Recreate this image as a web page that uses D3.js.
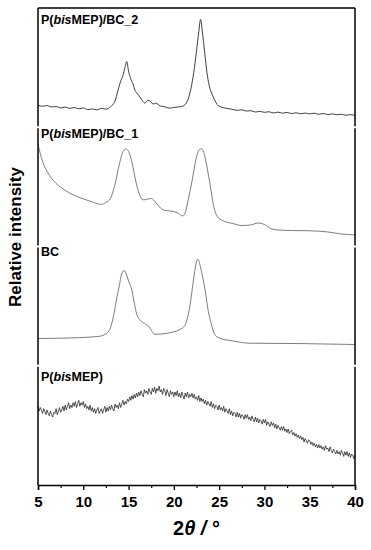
<!DOCTYPE html>
<html>
<head>
<meta charset="utf-8">
<script src="https://d3js.org/d3.v7.min.js"></script>
<style>
  body { margin: 0; background: #fff; }
  svg { display: block; font-family: "Liberation Sans", Arial, sans-serif; }
</style>
</head>
<body>
<div id="my_dataviz"></div>
<script>
// XRD patterns, 2theta in degrees, intensity in a.u. (each pattern scaled in its own band, 0-100)
var bc2Theta = [5,5.5,6,6.5,7,7.5,8,8.5,9,9.5,10,10.5,11,11.5,12,12.5,13,13.5,13.8,14.1,14.4,14.6,14.8,15,15.2,15.5,15.7,16,16.3,16.6,16.8,17.1,17.4,17.7,18,18.5,19,19.5,20,20.5,21,21.3,21.6,21.9,22.2,22.5,22.75,22.95,23.15,23.4,23.65,23.9,24.2,24.5,24.8,25.2,25.6,26,26.5,27,27.5,28,28.5,29,29.5,30,30.5,31,31.5,32,32.5,33,33.5,34,34.5,35,35.5,36,36.5,37,37.5,38,38.5,39,39.5,40];
var bc2Int = [18.5,17.6,18.2,17.0,17.4,16.2,16.9,15.8,16.5,15.5,16.2,14.8,15.3,14.6,15.9,15.2,17.2,22,30,38,44,50,55.1,47,41.5,36,31,28,24.6,21.5,20.2,22.5,21.8,19.5,20.2,17.8,17.2,16.0,16.6,17.0,17.8,19.5,24,33,46,64,80,90.4,80,63,46,35,28,23,19,17,16.2,15.6,15.0,14.2,14.6,13.6,13.9,12.8,13.3,12.5,13.0,12.0,12.7,11.8,12.4,11.5,12.1,11.3,11.9,11.2,11.8,10.9,11.5,10.6,11.2,10.5,10.9,10.1,10.6,9.9];

var bc1Theta = [5,5.5,6,6.5,7,8,9,10,11,12,12.5,13,13.5,14,14.4,14.7,15,15.4,15.8,16.2,16.6,17,17.5,18,18.5,19,20,20.5,21,21.3,21.6,22,22.4,22.7,23,23.3,23.6,24,24.4,24.8,25.5,26.5,27.5,28.5,29.3,30,30.7,31.5,33,35,37,38.5,40];
var bc1Int = [85.7,71.4,63.0,57.1,52.9,47.1,42.9,39.9,37.4,35.3,37.0,40.3,52.1,69.7,79.8,81.8,79.8,69.7,54.6,43.7,39.1,39.5,40.3,37.0,32.4,30.3,29.4,27.7,25.6,29.4,39.5,54.6,71.4,79.8,81.9,79.0,68.9,52.1,33.6,25.2,21.4,19.3,17.6,18.1,19.7,18.5,15.1,13.9,13.4,13.2,12.2,10.5,9.8];

var bcTheta = [5,8,11.5,12.5,13,13.4,13.7,14,14.2,14.5,14.8,15,15.3,15.6,15.9,16.2,16.6,17.2,17.9,19.6,21,21.5,21.8,22,22.3,22.45,22.65,22.9,23.2,23.5,23.8,24.1,24.5,25,26.5,28.4,33.9,40];
var bcInt = [22.8,23.2,24.4,26.7,31.9,44,56.9,68,76,79.8,76,71,65.3,54,43.1,39,36.1,33.3,26.4,27.8,31.9,40,51.4,62.5,79.2,86,89.4,84,73.6,61,45.8,36,26.4,23.3,20.8,18.9,18.6,17.8];

// amorphous polymer, one row per degree, sampled every 0.125 deg from 5 to 40
var pbStart = 5, pbStep = 0.125;
var pbInt = [
  66,62,65,63,60,64,62,59,
  63,60,58,62,59,57,61,60,
  64,59,62,65,61,63,66,62,
  67,63,66,69,64,67,65,69,
  66,70,65,68,71,66,69,67,
  70,65,68,64,66,63,67,62,
  65,61,64,60,63,65,60,62,
  64,60,63,66,61,65,62,66,
  63,67,64,62,68,65,67,64,
  69,65,68,71,67,70,68,72,
  70,74,71,75,72,76,73,77,
  74,78,75,79,76,74,80,77,
  79,76,81,78,76,81,78,82,
  77,81,79,83,78,80,76,81,
  79,75,80,77,74,79,76,78,
  74,78,75,79,74,77,73,78,
  75,72,77,74,78,73,76,74,
  77,73,76,72,74,71,75,70,
  73,70,72,68,71,67,70,68,
  66,70,65,68,64,67,66,63,
  67,63,65,62,66,61,64,62,
  60,64,59,62,58,61,60,57,
  61,57,60,56,59,58,55,59,
  56,59,55,57,54,58,55,53,
  57,53,56,52,55,54,51,55,
  52,55,50,53,51,49,53,50,
  52,48,51,47,50,48,46,49,
  46,49,45,47,44,47,43,45,
  46,42,44,41,43,40,42,39,
  41,38,40,36,39,37,35,38,
  37,34,36,33,35,32,34,31,
  34,31,33,30,32,29,33,30,
  31,28,32,29,27,30,28,26,
  29,26,28,25,29,27,24,28,
  25,28,24,27,23,26,25,22,
  25];

var patterns = [
  {name: ["P(", "bis", "MEP)/BC_2"], theta: bc2Theta, val: bc2Int, color: "#2a2a2a", lw: 0.9, ly: 16},
  {name: ["P(", "bis", "MEP)/BC_1"], theta: bc1Theta, val: bc1Int, color: "#6e6e6e", lw: 0.9, ly: 11},
  {name: ["BC", "", ""], theta: bcTheta, val: bcInt, color: "#6e6e6e", lw: 0.9, ly: 9},
  {name: ["P(", "bis", "MEP)"], theta: pbInt.map(function(d, i) { return pbStart + i * pbStep; }), val: pbInt, color: "#2a2a2a", lw: 0.8, ly: 15}
];

var majorTicks = [5, 10, 15, 20, 25, 30, 35, 40];
var minorTicks = [7.5, 12.5, 17.5, 22.5, 27.5, 32.5, 37.5];

var margin = {top: 8, right: 16, bottom: 65, left: 38},
    width = 371 - margin.left - margin.right,
    height = 550 - margin.top - margin.bottom;

var svg = d3.select("#my_dataviz")
  .append("svg")
    .attr("width", width + margin.left + margin.right)
    .attr("height", height + margin.top + margin.bottom)
  .append("g")
    .attr("transform", "translate(" + margin.left + "," + margin.top + ")");

var x = d3.scaleLinear().domain([5, 40]).range([0, width]);
var band = height / patterns.length;

patterns.forEach(function(p, k) {
  var top = k * band, bottom = (k + 1) * band;
  var y = d3.scaleLinear().domain([0, 100]).range([bottom, top]);
  var pts = p.theta.map(function(t, i) { return [t, p.val[i]]; });
  var line = d3.line()
    .x(function(d) { return x(d[0]); })
    .y(function(d) { return y(d[1]); })
    .curve(k == 3 ? d3.curveLinear : d3.curveMonotoneX);
  svg.append("path")
    .datum(pts)
    .attr("d", line)
    .attr("fill", "none")
    .attr("stroke", p.color)
    .attr("stroke-width", p.lw);

  var lab = svg.append("text")
    .attr("x", 3)
    .attr("y", top + p.ly)
    .attr("font-size", 12.5)
    .attr("font-weight", "bold")
    .attr("fill", "#000");
  lab.append("tspan").text(p.name[0]);
  if (p.name[1]) lab.append("tspan").attr("font-style", "italic").text(p.name[1]);
  if (p.name[2]) lab.append("tspan").text(p.name[2]);

  // side borders, broken between bands
  [0, width].forEach(function(xx) {
    svg.append("line")
      .attr("x1", xx).attr("x2", xx)
      .attr("y1", top + (k == 0 ? 0 : 1)).attr("y2", bottom - (k == 3 ? 0 : 1))
      .attr("stroke", "#000").attr("stroke-width", 1.5);
  });
});

// top border
svg.append("line")
  .attr("x1", 0).attr("x2", width).attr("y1", 0).attr("y2", 0)
  .attr("stroke", "#000").attr("stroke-width", 1.5);

// x axis
var xAxis = svg.append("g")
  .attr("transform", "translate(0," + height + ")")
  .call(d3.axisBottom(x).tickValues(majorTicks).tickSize(5).tickPadding(6).tickFormat(d3.format("d")));
xAxis.select(".domain").attr("stroke-width", 1.5);
xAxis.selectAll(".tick line").attr("stroke-width", 1.3);
xAxis.selectAll("text")
  .attr("font-size", 15)
  .attr("font-weight", "bold")
  .attr("font-family", "Liberation Sans, Arial, sans-serif");

svg.append("g")
  .attr("transform", "translate(0," + height + ")")
  .call(d3.axisBottom(x).tickValues(minorTicks).tickSize(3).tickFormat(""))
  .call(function(g) { g.select(".domain").remove(); })
  .selectAll(".tick line").attr("stroke-width", 1.2);

// axis titles
var xt = svg.append("text")
  .attr("x", width / 2)
  .attr("y", height + 50)
  .attr("text-anchor", "middle")
  .attr("font-size", 20)
  .attr("font-weight", "bold");
xt.append("tspan").text("2");
xt.append("tspan").attr("font-style", "italic").text("θ /");
xt.append("tspan").text(" °");

svg.append("text")
  .attr("transform", "rotate(-90)")
  .attr("x", -229)
  .attr("y", -17)
  .attr("text-anchor", "middle")
  .attr("font-size", 17)
  .attr("font-weight", "bold")
  .text("Relative intensity");
</script>
</body>
</html>
